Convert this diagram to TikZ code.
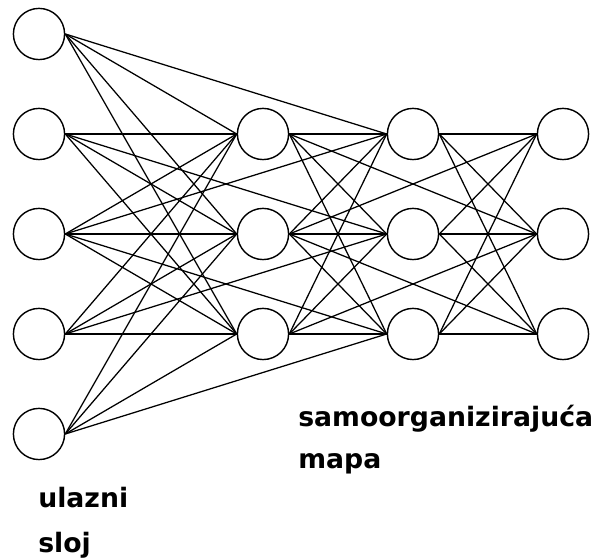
\documentclass[tikz,border=0pt]{standalone}
\usepackage{fontspec}
\newfontfamily\labelfont{DejaVu Sans}
\usepackage{tikz}
\usetikzlibrary{positioning}
\tikzset{>=stealth}
\tikzset{neuron/.style={circle,draw,line width=1pt,minimum size=1.28cm,inner sep=0pt},
  link/.style={line width=0.9pt},
  caption/.style={font=\labelfont\bfseries\fontsize{19}{30}\selectfont,align=left,inner sep=0pt}}

\begin{document}
\begin{tikzpicture}[scale=1]
% Page is 15 x 13.95
\useasboundingbox (0,0) rectangle (15,13.95);

% Input layer
\node[neuron] (in1) at (0.975,13.1) {};
\node[neuron] (in2) at (0.975,10.6) {};
\node[neuron] (in3) at (0.975,8.1) {};
\node[neuron] (in4) at (0.975,5.6) {};
\node[neuron] (in5) at (0.975,3.1) {};

% Map, first column
\node[neuron] (a1) at (6.575,10.6) {};
\node[neuron] (a2) at (6.575,8.1) {};
\node[neuron] (a3) at (6.575,5.6) {};

% Map, second column
\node[neuron] (b1) at (10.325,10.6) {};
\node[neuron] (b2) at (10.325,8.1) {};
\node[neuron] (b3) at (10.325,5.6) {};

% Map, third column
\node[neuron] (c1) at (14.075,10.6) {};
\node[neuron] (c2) at (14.075,8.1) {};
\node[neuron] (c3) at (14.075,5.6) {};

% Every input to every node of the first column
\foreach \i in {1,...,5}
  \foreach \j in {1,2,3}
    \draw[link] (in\i.east) -- (a\j.west);

% Inputs to the second column
\draw[link] (in1.east) -- (b1.west);
\draw[link] (in2.east) -- (b2.west);
\draw[link] (in3.east) -- (b1.west);
\draw[link] (in3.east) -- (b3.west);
\draw[link] (in4.east) -- (b2.west);
\draw[link] (in5.east) -- (b3.west);

% Column to column
\foreach \i in {1,2,3}
  \foreach \j in {1,2,3}
  {
    \draw[link] (a\i.east) -- (b\j.west);
    \draw[link] (b\i.east) -- (c\j.west);
  }

% First column to third column
\draw[link] (a1.east) -- (c2.west);
\draw[link] (a2.east) -- (c1.west);
\draw[link] (a2.east) -- (c3.west);
\draw[link] (a3.east) -- (c2.west);

% Captions (base anchor sits on the last line)
\node[caption,anchor=base west] (mapname) at (7.45,2.225) {samoorganizirajuća\\mapa};
\node[caption,anchor=base west,font=\labelfont\bfseries\fontsize{19}{32.5}\selectfont] (inname) at (0.95,0.125) {ulazni\\sloj};
\end{tikzpicture}
\end{document}
